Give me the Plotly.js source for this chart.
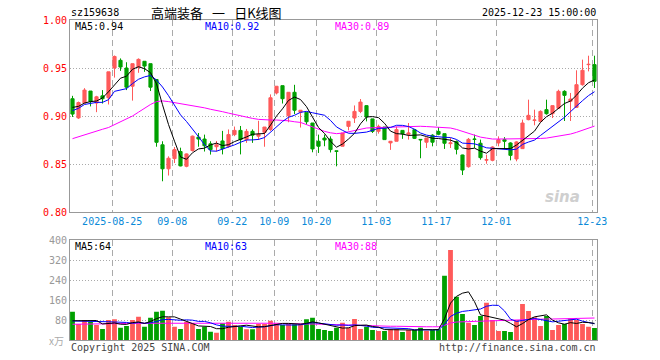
<!DOCTYPE html>
<html><head><meta charset="utf-8">
<script src="https://cdn.plot.ly/plotly-3.0.1.min.js"></script>
<style>html,body{margin:0;padding:0;background:#fff}#chart{width:660px;height:360px}</style>
</head><body><div id="chart"></div>
<script>
const dates = ['2025-08-14','2025-08-15','2025-08-18','2025-08-19','2025-08-20','2025-08-21','2025-08-22',
'2025-08-25','2025-08-26','2025-08-27','2025-08-28','2025-08-29',
'2025-09-01','2025-09-02','2025-09-03','2025-09-04','2025-09-05',
'2025-09-08','2025-09-09','2025-09-10','2025-09-11','2025-09-12',
'2025-09-15','2025-09-16','2025-09-17','2025-09-18','2025-09-19',
'2025-09-22','2025-09-23','2025-09-24','2025-09-25','2025-09-26',
'2025-09-29','2025-09-30','2025-10-09','2025-10-10',
'2025-10-13','2025-10-14','2025-10-15','2025-10-16','2025-10-17',
'2025-10-20','2025-10-21','2025-10-22','2025-10-23','2025-10-24',
'2025-10-27','2025-10-28','2025-10-29','2025-10-30','2025-10-31',
'2025-11-03','2025-11-04','2025-11-05','2025-11-06','2025-11-07',
'2025-11-10','2025-11-11','2025-11-12','2025-11-13','2025-11-14',
'2025-11-17','2025-11-18','2025-11-19','2025-11-20','2025-11-21',
'2025-11-24','2025-11-25','2025-11-26','2025-11-27','2025-11-28',
'2025-12-01','2025-12-02','2025-12-03','2025-12-04','2025-12-05',
'2025-12-08','2025-12-09','2025-12-10','2025-12-11','2025-12-12',
'2025-12-15','2025-12-16','2025-12-17','2025-12-18','2025-12-19',
'2025-12-22','2025-12-23'];

const open = [0.918,0.898,0.9135,0.926,0.9135,0.921,0.919,0.950,0.958,0.950,
0.931,0.951,0.957,0.9545,0.938,0.870,0.845,0.8556,0.863,0.8476,
0.864,0.878,0.876,0.871,0.868,0.874,0.8684,0.8806,0.885,0.8754,
0.884,0.879,0.883,0.886,0.924,0.9316,0.9003,0.9247,0.904,0.904,
0.8927,0.8737,0.877,0.876,0.8637,0.8685,0.8892,0.8979,0.9048,0.9108,
0.897,0.8841,0.8885,0.872,0.8737,0.885,0.881,0.8858,0.8756,0.8727,
0.880,0.884,0.8816,0.8712,0.8733,0.8594,0.8472,0.8760,0.8716,0.8540,
0.8538,0.8719,0.8754,0.8719,0.8552,0.866,0.8962,0.8955,0.8944,0.9066,
0.9024,0.908,0.9257,0.9153,0.909,0.9326,0.9535,0.9535];

const high = [0.921,0.915,0.929,0.926,0.921,0.927,0.946,0.963,0.960,0.956,
0.9545,0.960,0.957,0.9545,0.9385,0.8737,0.858,0.8677,0.867,0.861,
0.8796,0.8823,0.8806,0.8737,0.874,0.8845,0.886,0.889,0.8896,0.8865,
0.886,0.895,0.8885,0.9225,0.931,0.9316,0.9247,0.9325,0.906,0.904,
0.8927,0.8806,0.8806,0.8788,0.8637,0.8823,0.8945,0.911,0.9177,0.911,
0.897,0.891,0.8885,0.8737,0.889,0.885,0.8927,0.8858,0.8756,0.8771,
0.881,0.8885,0.8816,0.8771,0.8745,0.8597,0.8771,0.8806,0.8754,0.8597,
0.8684,0.8788,0.878,0.8726,0.8737,0.8962,0.917,0.9066,0.9059,0.917,
0.9108,0.9274,0.9268,0.924,0.9476,0.9587,0.9628,0.9628];

const low = [0.899,0.897,0.913,0.910,0.904,0.913,0.912,0.940,0.947,0.927,
0.916,0.945,0.946,0.926,0.868,0.832,0.838,0.851,0.8476,0.8466,
0.863,0.868,0.863,0.8598,0.863,0.860,0.867,0.879,0.860,0.872,
0.872,0.875,0.868,0.8845,0.9225,0.913,0.8935,0.902,0.888,0.891,
0.8622,0.8615,0.8685,0.862,0.8476,0.8685,0.885,0.8927,0.903,0.8944,
0.8823,0.8816,0.8754,0.8647,0.8737,0.8762,0.8754,0.876,0.856,0.8667,
0.8684,0.880,0.8657,0.8667,0.8600,0.8385,0.8462,0.8667,0.8545,0.8503,
0.8528,0.8684,0.8657,0.8538,0.8528,0.866,0.8955,0.8903,0.8934,0.9014,
0.8979,0.9073,0.8948,0.8948,0.9083,0.9316,0.9465,0.9292];

const close = [0.902,0.914,0.927,0.915,0.920,0.918,0.946,0.962,0.951,0.930,
0.9545,0.959,0.952,0.930,0.8726,0.845,0.856,0.865,0.848,0.8605,
0.879,0.876,0.869,0.865,0.870,0.866,0.8806,0.885,0.8754,0.884,
0.880,0.881,0.8885,0.919,0.931,0.918,0.9247,0.906,0.906,0.894,
0.8657,0.8685,0.875,0.865,0.8632,0.8823,0.8945,0.9048,0.9145,0.899,
0.884,0.8892,0.8754,0.8737,0.8858,0.8816,0.8823,0.8767,0.8752,0.8771,
0.8727,0.881,0.8716,0.8720,0.8653,0.8437,0.8757,0.8757,0.8566,0.8545,
0.8677,0.8754,0.8737,0.859,0.873,0.8927,0.9007,0.8958,0.9048,0.9024,
0.9108,0.9257,0.9215,0.9177,0.9326,0.9476,0.9538,0.9361];

const volume = [113,64,80,73,60,44,80,83,49,56,
80,93,53,89,113,117,91,53,44,73,
67,44,53,33,29,67,73,60,53,43,
43,64,64,77,67,60,64,63,63,83,
89,44,40,36,49,69,49,84,44,53,
40,36,36,43,44,32,40,40,49,37,
40,43,257,360,173,104,69,60,96,149,
80,36,36,32,80,144,116,91,56,96,
40,60,64,87,80,64,53,48];

const ma30Price = [0.8764,0.8785,0.8805,0.8825,0.8845,0.8862,0.888,0.891,0.894,0.897,
0.900,0.904,0.908,0.912,0.915,0.9157,0.915,0.914,0.9128,0.912,
0.9105,0.9095,0.9085,0.907,0.906,0.9045,0.903,0.9015,0.9005,0.899,
0.8975,0.8965,0.896,0.8958,0.8958,0.8955,0.895,0.894,0.8933,0.891,
0.8885,0.886,0.884,0.8825,0.8816,0.8822,0.8835,0.8848,0.8865,0.8875,
0.8878,0.888,0.8885,0.8887,0.889,0.8893,0.8895,0.8895,0.8893,0.889,
0.8885,0.8882,0.888,0.8875,0.886,0.884,0.882,0.880,0.878,0.877,
0.876,0.876,0.876,0.876,0.8762,0.8764,0.8764,0.8764,0.8766,0.877,
0.878,0.8788,0.880,0.8812,0.883,0.885,0.8875,0.8895];
const ma5PriceLead = [0.909,0.910,0.9135,0.915];
const ma10PriceLead = [0.9056,0.908,0.912,0.9135,0.9142,0.9142,0.917,0.9257,0.9274];

const ma30Volume = [63,63,64,64,64,65,65,66,66,66,
67,67,68,68,69,70,70,70,70,70,
70,70,69,69,69,68,68,68,68,67,
67,67,67,67,67,66,66,66,66,66,
65,64,63,62,61,60,60,59,58,58,
57,56,56,55,55,54,54,54,53,53,
53,53,59,68,72,73,74,75,76,77,
78,78,79,79,80,81,82,82,83,84,
84,85,86,86,87,88,89,88];
const ma5VolumeLead = [77,78,78,78];
const ma10VolumeLead = [76,76,75,74,74,73,73,72,72];

const tickDates = ['2025-08-25','2025-09-08','2025-09-22','2025-10-09','2025-10-20','2025-11-03','2025-11-17','2025-12-01','2025-12-23'];
const tickLabels = ['2025-08-25','09-08','09-22','10-09','10-20','11-03','11-17','12-01','12-23'];
const priceTicks = [0.80,0.85,0.90,0.95,1.00];
const volumeTicks = [80,160,240,320,400];

const UP = '#ff5a5a', DOWN = '#00a000';
const MONO = 'DejaVu Sans Mono, monospace';

function movingAvg(vals, n, lead) {
  return vals.map((v, i) => i < n - 1 ? lead[i] :
    vals.slice(i - n + 1, i + 1).reduce((a, b) => a + b, 0) / n);
}

const idx = dates.map((d, i) => i);
const tickVals = tickDates.map(d => dates.indexOf(d) - 0.38);
const volColors = idx.map(i => close[i] >= open[i] ? UP : DOWN);

const ma5P = movingAvg(close, 5, ma5PriceLead);
const ma10P = movingAvg(close, 10, ma10PriceLead);
const ma5V = movingAvg(volume, 5, ma5VolumeLead);
const ma10V = movingAvg(volume, 10, ma10VolumeLead);

function line(y, color, xa, ya) {
  return {type: 'scatter', mode: 'lines', x: idx, y: y, xaxis: xa, yaxis: ya,
    line: {color: color, width: 1}, hoverinfo: 'skip', showlegend: false};
}

const traces = [
  {type: 'candlestick', x: idx, open: open, high: high, low: low, close: close,
   xaxis: 'x', yaxis: 'y', whiskerwidth: 0,
   increasing: {line: {color: UP, width: 1}, fillcolor: UP},
   decreasing: {line: {color: DOWN, width: 1}, fillcolor: DOWN},
   hoverinfo: 'skip', showlegend: false},
  line(ma30Price, '#ff00ff', 'x', 'y'),
  line(ma10P, '#0000ff', 'x', 'y'),
  line(ma5P, '#000000', 'x', 'y'),
  {type: 'bar', x: idx, y: volume, xaxis: 'x2', yaxis: 'y2', width: 0.8,
   marker: {color: volColors, line: {width: 0}}, hoverinfo: 'skip', showlegend: false},
  line(ma30Volume, '#ff00ff', 'x2', 'y2'),
  line(ma10V, '#0000ff', 'x2', 'y2'),
  line(ma5V, '#000000', 'x2', 'y2')
];

// pixel -> paper helpers for the text labels
const L = 70, R = 597, T = 20, B = 340;
function ann(text, px, py, color, anchor, size, family) {
  return {text: text, x: (px - L) / (R - L), y: (B - py) / (B - T), xref: 'paper', yref: 'paper',
    xanchor: anchor, yanchor: 'middle', showarrow: false,
    font: {family: family || MONO, size: size || 10, color: color}};
}

const xBase = {
  range: [-0.4167, 87.4167], showgrid: true, gridcolor: '#aaaaaa', griddash: '6px,4px', gridwidth: 1,
  tickvals: tickVals, ticktext: tickLabels, ticks: '', zeroline: false,
  showline: true, linecolor: '#999999', linewidth: 1, mirror: true, fixedrange: true
};

const layout = {
  width: 660, height: 360,
  margin: {l: L, r: 660 - R, t: T, b: 360 - B, pad: 0},
  paper_bgcolor: '#ffffff', plot_bgcolor: '#ffffff',
  showlegend: false, hovermode: false, boxgap: 0.25, bargap: 0.2,
  xaxis: Object.assign({}, xBase, {anchor: 'y', domain: [0, 1], rangeslider: {visible: false},
    tickfont: {family: MONO, size: 10, color: '#0a8ad8'}}),
  yaxis: {domain: [0.4, 1], range: [0.80, 1.00], tickvals: priceTicks,
    ticktext: priceTicks.map(v => v.toFixed(2)), ticks: '',
    tickfont: {family: MONO, size: 10, color: '#ff0000'},
    showgrid: true, gridcolor: '#aaaaaa', griddash: '1px,2px', zeroline: false,
    showline: true, linecolor: '#999999', linewidth: 1, mirror: true, fixedrange: true},
  xaxis2: Object.assign({}, xBase, {anchor: 'y2', domain: [0, 1], matches: 'x', showticklabels: false}),
  yaxis2: {domain: [0, 0.3125], range: [0, 400], tickvals: volumeTicks,
    ticktext: volumeTicks.map(String), ticks: '',
    tickfont: {family: MONO, size: 10, color: '#999999'},
    showgrid: true, gridcolor: '#aaaaaa', griddash: '1px,2px', zeroline: false,
    showline: true, linecolor: '#999999', linewidth: 1, mirror: true, fixedrange: true},
  annotations: [
    ann('sz159638', 69, 13, '#000000', 'left'),
    ann('高端装备\u2002\u2009一\u2002\u2009日K线图', 149, 13, '#000000', 'left', 13, 'Noto Sans CJK SC'),
    ann('2025-12-23 15:00:00', 598, 13, '#000000', 'right'),
    ann('MA5:' + ma5P[ma5P.length - 1].toFixed(2), 73, 26, '#000000', 'left'),
    ann('MA10:0.92', 203, 26, '#0000ff', 'left'),
    ann('MA30:' + ma30Price[ma30Price.length - 1].toFixed(2), 333, 26, '#ff00ff', 'left'),
    ann('MA5:64', 73, 246, '#000000', 'left'),
    ann('MA10:63', 203, 246, '#0000ff', 'left'),
    ann('MA30:88', 333, 246, '#ff00ff', 'left'),
    ann('x万', 66, 340, '#aaaaaa', 'right', 10, 'Noto Sans CJK SC'),
    ann('Copyright 2025 SINA.COM', 69, 347, '#444444', 'left'),
    ann('http://finance.sina.com.cn', 598, 347, '#444444', 'right'),
    {text: '<b><i>sina</i></b>', x: (582 - L) / (R - L), y: (B - 197) / (B - T), xref: 'paper', yref: 'paper',
     showarrow: false, font: {family: 'DejaVu Sans', size: 15, color: '#cfcfcf'}}
  ]
};

Plotly.newPlot('chart', traces, layout, {staticPlot: true, displayModeBar: false});
</script></body></html>
